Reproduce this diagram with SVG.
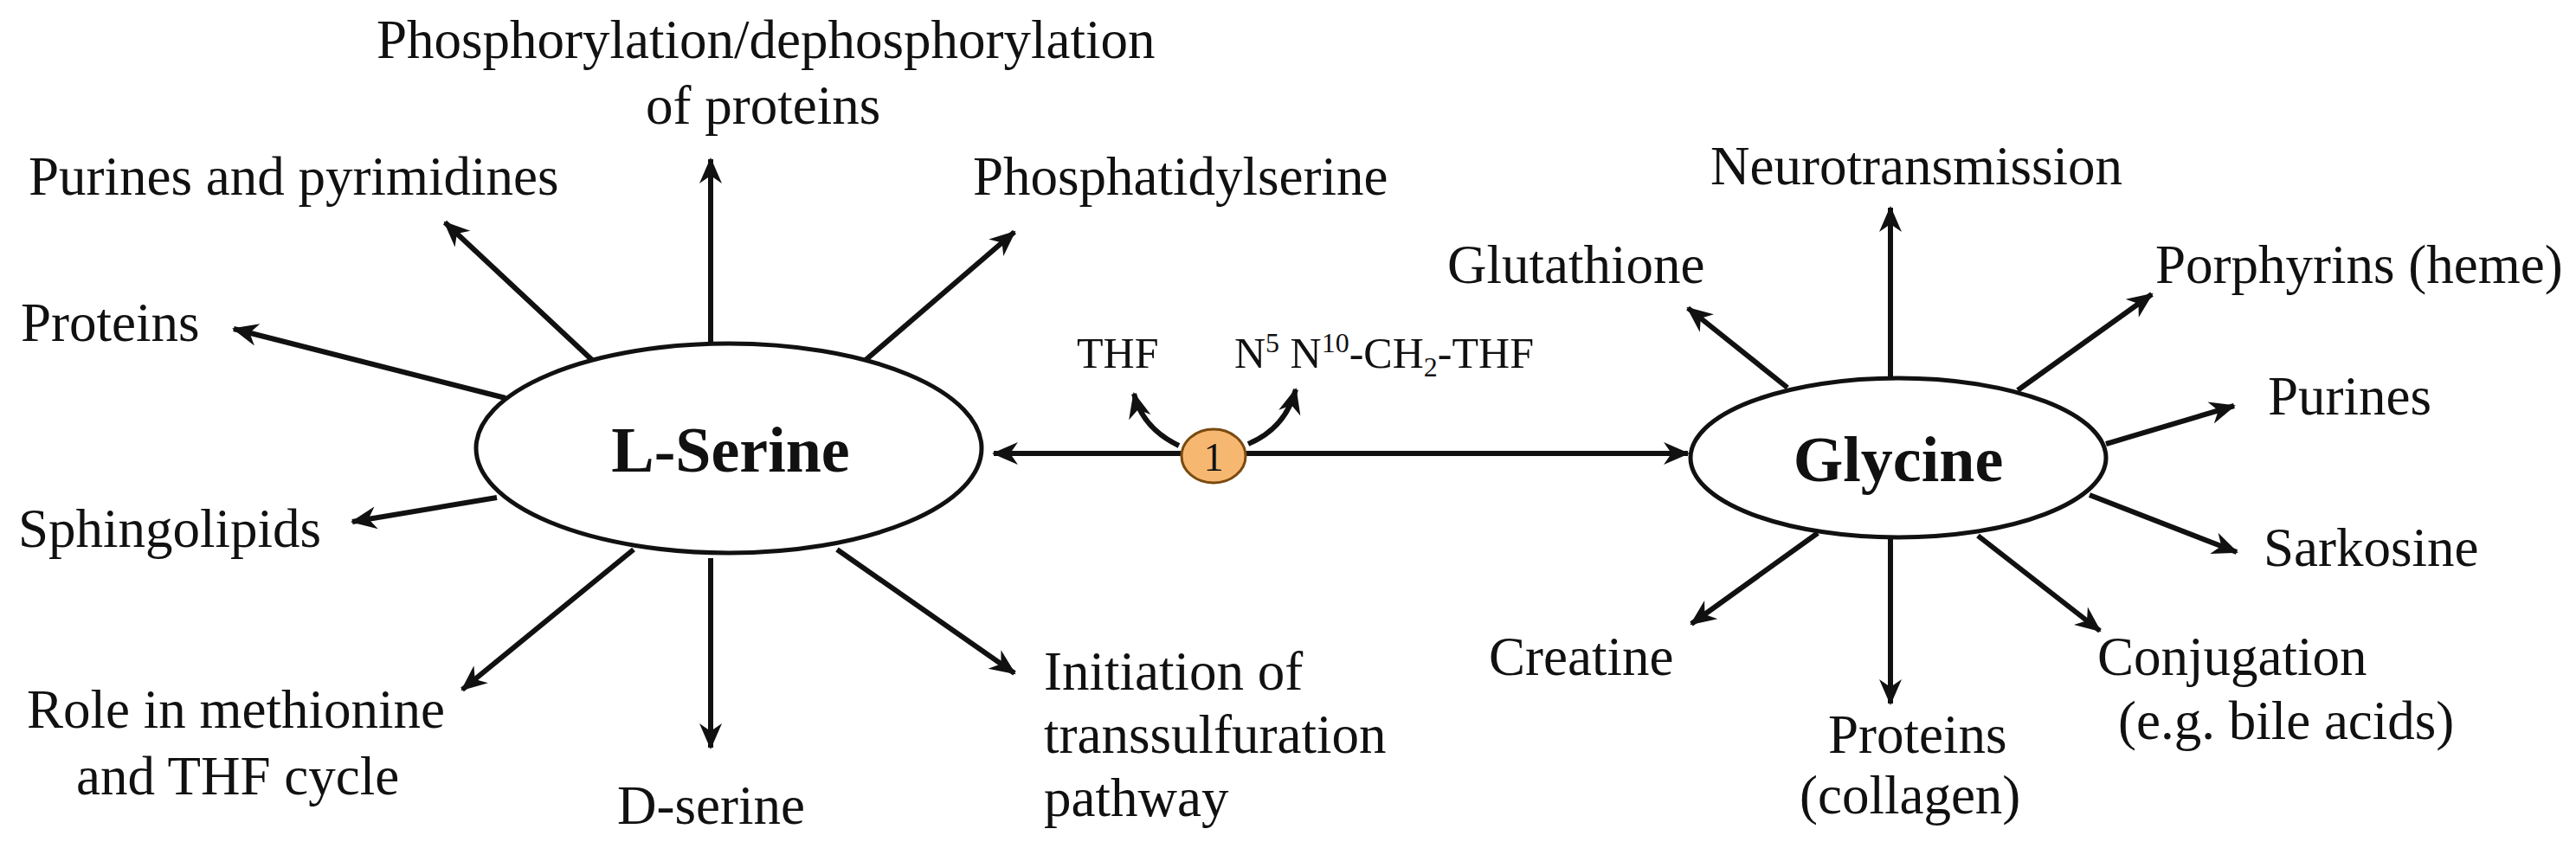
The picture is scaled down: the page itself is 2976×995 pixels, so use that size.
<svg xmlns="http://www.w3.org/2000/svg" width="2976" height="995" viewBox="0 0 2976 995">
<style>
text{font-family:"Liberation Serif","Times New Roman",serif;fill:#111}
.l{font-size:63px}
.s{font-size:50px}
.ss{font-size:32px}
.b{font-size:74px;font-weight:bold;text-anchor:middle}
.e{fill:#fff;stroke:#111;stroke-width:5}
.c line,.c path{stroke:#111;stroke-width:6;fill:none;marker-end:url(#ah)}
</style>
<defs>
<marker id="ah" markerUnits="userSpaceOnUse" viewBox="-30 -15 34 30" refX="0" refY="0" markerWidth="34" markerHeight="30" orient="auto-start-reverse">
<path d="M2,0 L-28,-13 L-19,0 L-28,13 z" fill="#111"/>
</marker>
</defs>
<g class="c" id="connectors">
<line x1="821" y1="397" x2="821" y2="184"/>
<line x1="684" y1="416" x2="514" y2="257"/>
<line x1="1000" y1="416" x2="1172" y2="268"/>
<line x1="584" y1="460" x2="270" y2="380"/>
<line x1="574" y1="575" x2="407" y2="603"/>
<line x1="732" y1="635" x2="534" y2="797"/>
<line x1="821" y1="645" x2="821" y2="864"/>
<line x1="967" y1="635" x2="1172" y2="778"/>
<line x1="1148" y1="524" x2="1950" y2="524" style="marker-start:url(#ah)"/>
<path d="M1362,515 Q1320,495 1310,455"/>
<path d="M1442,513 Q1485,495 1497,450"/>
<line x1="2184" y1="437" x2="2184" y2="240"/>
<line x1="2065" y1="448" x2="1950" y2="356"/>
<line x1="2331" y1="451" x2="2486" y2="340"/>
<line x1="2433" y1="513" x2="2581" y2="469"/>
<line x1="2414" y1="572" x2="2584" y2="638"/>
<line x1="2285" y1="619" x2="2426" y2="729"/>
<line x1="2184" y1="621" x2="2184" y2="813"/>
<line x1="2100" y1="616" x2="1954" y2="721"/>
</g>
<g id="lserine"><ellipse class="e" cx="842" cy="518" rx="292" ry="121"/><text class="b" x="844" y="545">L-Serine</text></g>
<g id="glycine"><ellipse class="e" cx="2193" cy="529" rx="240" ry="92"/><text class="b" x="2193" y="556">Glycine</text></g>
<g id="enzyme1"><ellipse cx="1402" cy="527" rx="37" ry="31" fill="#F6B870" stroke="#7a4a10" stroke-width="3"/><text class="s" x="1402" y="544" text-anchor="middle" style="font-size:46px">1</text></g>
<g id="thf"><text class="s" x="1244" y="425">THF</text></g>
<g id="mthf"><text class="s" x="1426" y="425">N<tspan class="ss" dy="-18">5</tspan><tspan dy="18"> N</tspan><tspan class="ss" dy="-18">10</tspan><tspan dy="18">-CH</tspan><tspan class="ss" dy="10">2</tspan><tspan dy="-10">-THF</tspan></text></g>
<g id="phos"><text class="l" x="435" y="67">Phosphorylation/dephosphorylation</text><text class="l" x="746" y="143">of proteins</text></g>
<g id="purpyr"><text class="l" x="33" y="225">Purines and pyrimidines</text></g>
<g id="ps"><text class="l" x="1124" y="225">Phosphatidylserine</text></g>
<g id="prot1"><text class="l" x="24" y="394">Proteins</text></g>
<g id="sphingo"><text class="l" x="21" y="632">Sphingolipids</text></g>
<g id="role"><text class="l" x="31" y="841">Role in methionine</text><text class="l" x="88" y="918">and THF cycle</text></g>
<g id="dserine"><text class="l" x="713" y="952">D-serine</text></g>
<g id="init"><text class="l" x="1206" y="797">Initiation of</text><text class="l" x="1206" y="870">transsulfuration</text><text class="l" x="1206" y="943">pathway</text></g>
<g id="neuro"><text class="l" x="1976" y="213">Neurotransmission</text></g>
<g id="gluta"><text class="l" x="1672" y="327">Glutathione</text></g>
<g id="porph"><text class="l" x="2490" y="327">Porphyrins (heme)</text></g>
<g id="purines"><text class="l" x="2620" y="479">Purines</text></g>
<g id="sark"><text class="l" x="2615" y="654">Sarkosine</text></g>
<g id="creat"><text class="l" x="1720" y="780">Creatine</text></g>
<g id="conj"><text class="l" x="2423" y="780">Conjugation</text><text class="l" x="2447" y="854">(e.g. bile acids)</text></g>
<g id="prot2"><text class="l" x="2112" y="870">Proteins</text><text class="l" x="2079" y="940">(collagen)</text></g>
</svg>
